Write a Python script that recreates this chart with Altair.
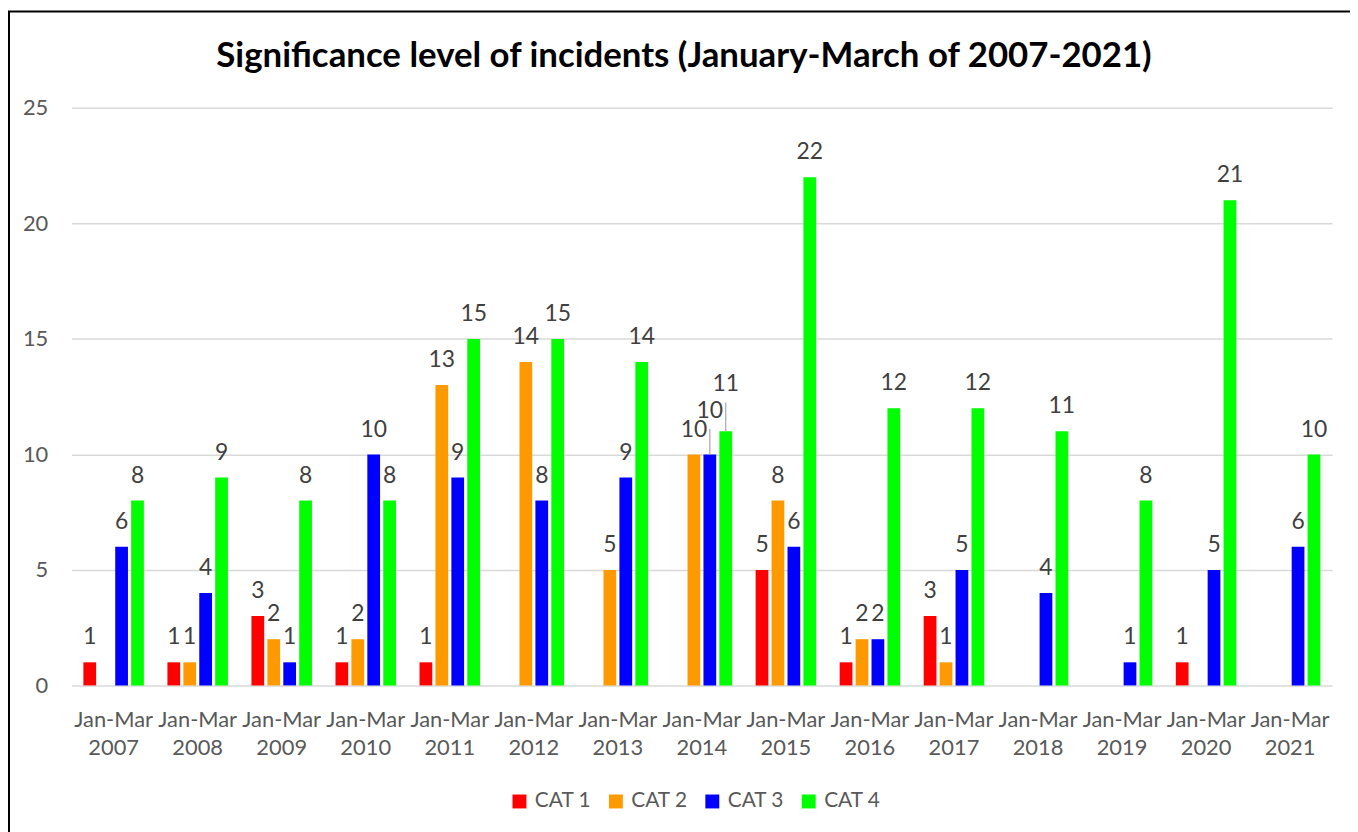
import altair as alt
import pandas as pd

title_text = "Significance level of incidents (January-March of 2007-2021)"
periods = ["Jan-Mar 2007", "Jan-Mar 2008", "Jan-Mar 2009", "Jan-Mar 2010", "Jan-Mar 2011",
           "Jan-Mar 2012", "Jan-Mar 2013", "Jan-Mar 2014", "Jan-Mar 2015", "Jan-Mar 2016",
           "Jan-Mar 2017", "Jan-Mar 2018", "Jan-Mar 2019", "Jan-Mar 2020", "Jan-Mar 2021"]
categories = ["CAT 1", "CAT 2", "CAT 3", "CAT 4"]
cat1 = [1, 1, 3, 1, 1, 0, 0, 0, 5, 1, 3, 0, 0, 1, 0]
cat2 = [0, 1, 2, 2, 13, 14, 5, 10, 8, 2, 1, 0, 0, 0, 0]
cat3 = [6, 4, 1, 10, 9, 8, 9, 10, 6, 2, 5, 4, 1, 5, 6]
cat4 = [8, 9, 8, 8, 15, 15, 14, 11, 22, 12, 12, 11, 8, 21, 10]
colors = ["#FF0000", "#FF9900", "#0000FF", "#00FF00"]
# labels that were moved up by hand in the original (with leader lines), in value units
label_lift = {("Jan-Mar 2014", "CAT 3"): 0.8, ("Jan-Mar 2014", "CAT 4"): 0.95}

rows = []
for cat, vals in zip(categories, [cat1, cat2, cat3, cat4]):
    for p, v in zip(periods, vals):
        lift = label_lift.get((p, cat), 0)
        rows.append({"period": p, "category": cat, "value": v,
                     "label_y": v + lift, "lifted": lift > 0})
df = pd.DataFrame(rows)

FONT = "Lato"
GRAY = "#595959"

x = alt.X("period:N", sort=periods, title=None,
          scale=alt.Scale(paddingInner=0.28, paddingOuter=0.14),
          axis=alt.Axis(labelExpr="split(datum.label, ' ')", labelAngle=0, labelFontSize=22,
                        labelColor=GRAY, labelFont=FONT, ticks=False, domain=False,
                        labelPadding=24, labelLineHeight=28))
xo = alt.XOffset("category:N", sort=categories, scale=alt.Scale(paddingInner=0.2))
yscale = alt.Scale(domain=[0, 25])
y = alt.Y("value:Q", title=None, scale=yscale,
          axis=alt.Axis(values=[0, 5, 10, 15, 20, 25], labelFontSize=22, labelColor=GRAY,
                        labelFont=FONT, ticks=False, domain=False, labelPadding=24,
                        gridColor="#D9D9D9", gridWidth=1.5))
color = alt.Color("category:N", sort=categories,
                  scale=alt.Scale(domain=categories, range=colors),
                  legend=alt.Legend(title=None, orient="none", direction="horizontal",
                                    legendX=440, legendY=687, symbolType="square",
                                    symbolSize=196, symbolStrokeWidth=0, labelFontSize=21,
                                    labelColor=GRAY, labelFont=FONT, columnPadding=14,
                                    labelOffset=5, symbolOpacity=1))

base = alt.Chart(df)
bars = base.mark_bar().encode(x=x, xOffset=xo, y=y, color=color)
labels = base.transform_filter("datum.value > 0").mark_text(
    baseline="alphabetic", dy=-18, fontSize=23, color="#404040", font=FONT
).encode(x=x, xOffset=xo, y=alt.Y("label_y:Q", scale=yscale), text="value:Q")
leaders = base.transform_filter("datum.lifted").mark_rule(
    color="#A6A6A6", strokeWidth=1.2, y2Offset=-7
).encode(x=x, xOffset=xo, y=alt.Y("value:Q", scale=yscale), y2="label_y:Q")

frame = alt.Chart(pd.DataFrame({"a": [0]})).mark_rect(
    fill=None, stroke="black", strokeWidth=2
).encode(x=alt.value(-63), x2=alt.value(1400), y=alt.value(-97), y2=alt.value(900))

title = alt.Chart(pd.DataFrame({"t": [title_text]})).mark_text(
    font=FONT, fontSize=35, fontWeight="bold", color="black",
    align="center", baseline="alphabetic"
).encode(text="t:N", x=alt.value(616), y=alt.value(-41))

chart = alt.layer(frame, bars, leaders, labels, title).properties(
    width=1268, height=581,
    autosize=alt.AutoSizeParams(type="none"),
    padding={"left": 64, "top": 98, "right": 18, "bottom": 145},
).configure_view(stroke=None)

chart.save("out.html", embed_options={"renderer": "svg", "actions": False})
